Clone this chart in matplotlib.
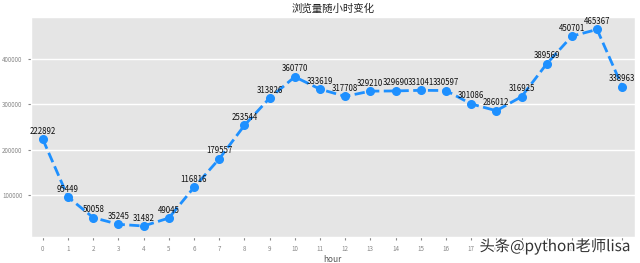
import matplotlib
matplotlib.use("Agg")
import matplotlib.pyplot as plt
import matplotlib.patheffects as pe

plt.style.use("ggplot")
plt.rcParams['font.family'] = ['Noto Sans CJK SC', 'DejaVu Sans']
plt.rcParams['axes.unicode_minus'] = False

hours = list(range(24))
views = [222892, 95449, 50058, 35245, 31482, 49045, 116816, 179557, 253544,
         313826, 360770, 333619, 317708, 329210, 329690, 331041, 330597,
         301086, 286012, 316925, 389569, 450701, 465367, 338963]
yticks = [100000, 200000, 300000, 400000]
title = "浏览量随小时变化"
xlabel = "hour"

fig = plt.figure(figsize=(6.4, 2.63), dpi=100)
ax = fig.add_axes([0.048, 0.099, 0.944, 0.836])
ax.plot(hours, views, color="#1E90FF", linestyle="--", linewidth=2,
        marker="o", markersize=5.5)
for h, v in zip(hours, views):
    ax.annotate(str(v), (h, v), xytext=(0, 2.5), textcoords="offset points",
                ha="center", va="bottom", fontsize=5.7, color="#111111")
ax.set_xlim(-0.48, 23.5)
ax.set_ylim(7300, 492700)
ax.set_xticks(hours)
ax.set_yticks(yticks)
ax.tick_params(axis="both", labelsize=4.5, colors="#888888", length=2.5)
ax.grid(axis="x", visible=False)
ax.grid(axis="y", color="white", linewidth=1)
ax.set_xlabel(xlabel, fontsize=6, color="#555555", labelpad=1)
ax.set_title(title, fontsize=7.5, color="#222222", pad=4)

fig.text(0.985, 0.03, "头条@python老师lisa", ha="right", va="bottom",
         fontsize=11, color="#333333",
         path_effects=[pe.withStroke(linewidth=2, foreground="white")])

fig.savefig("out.png", dpi=100)
